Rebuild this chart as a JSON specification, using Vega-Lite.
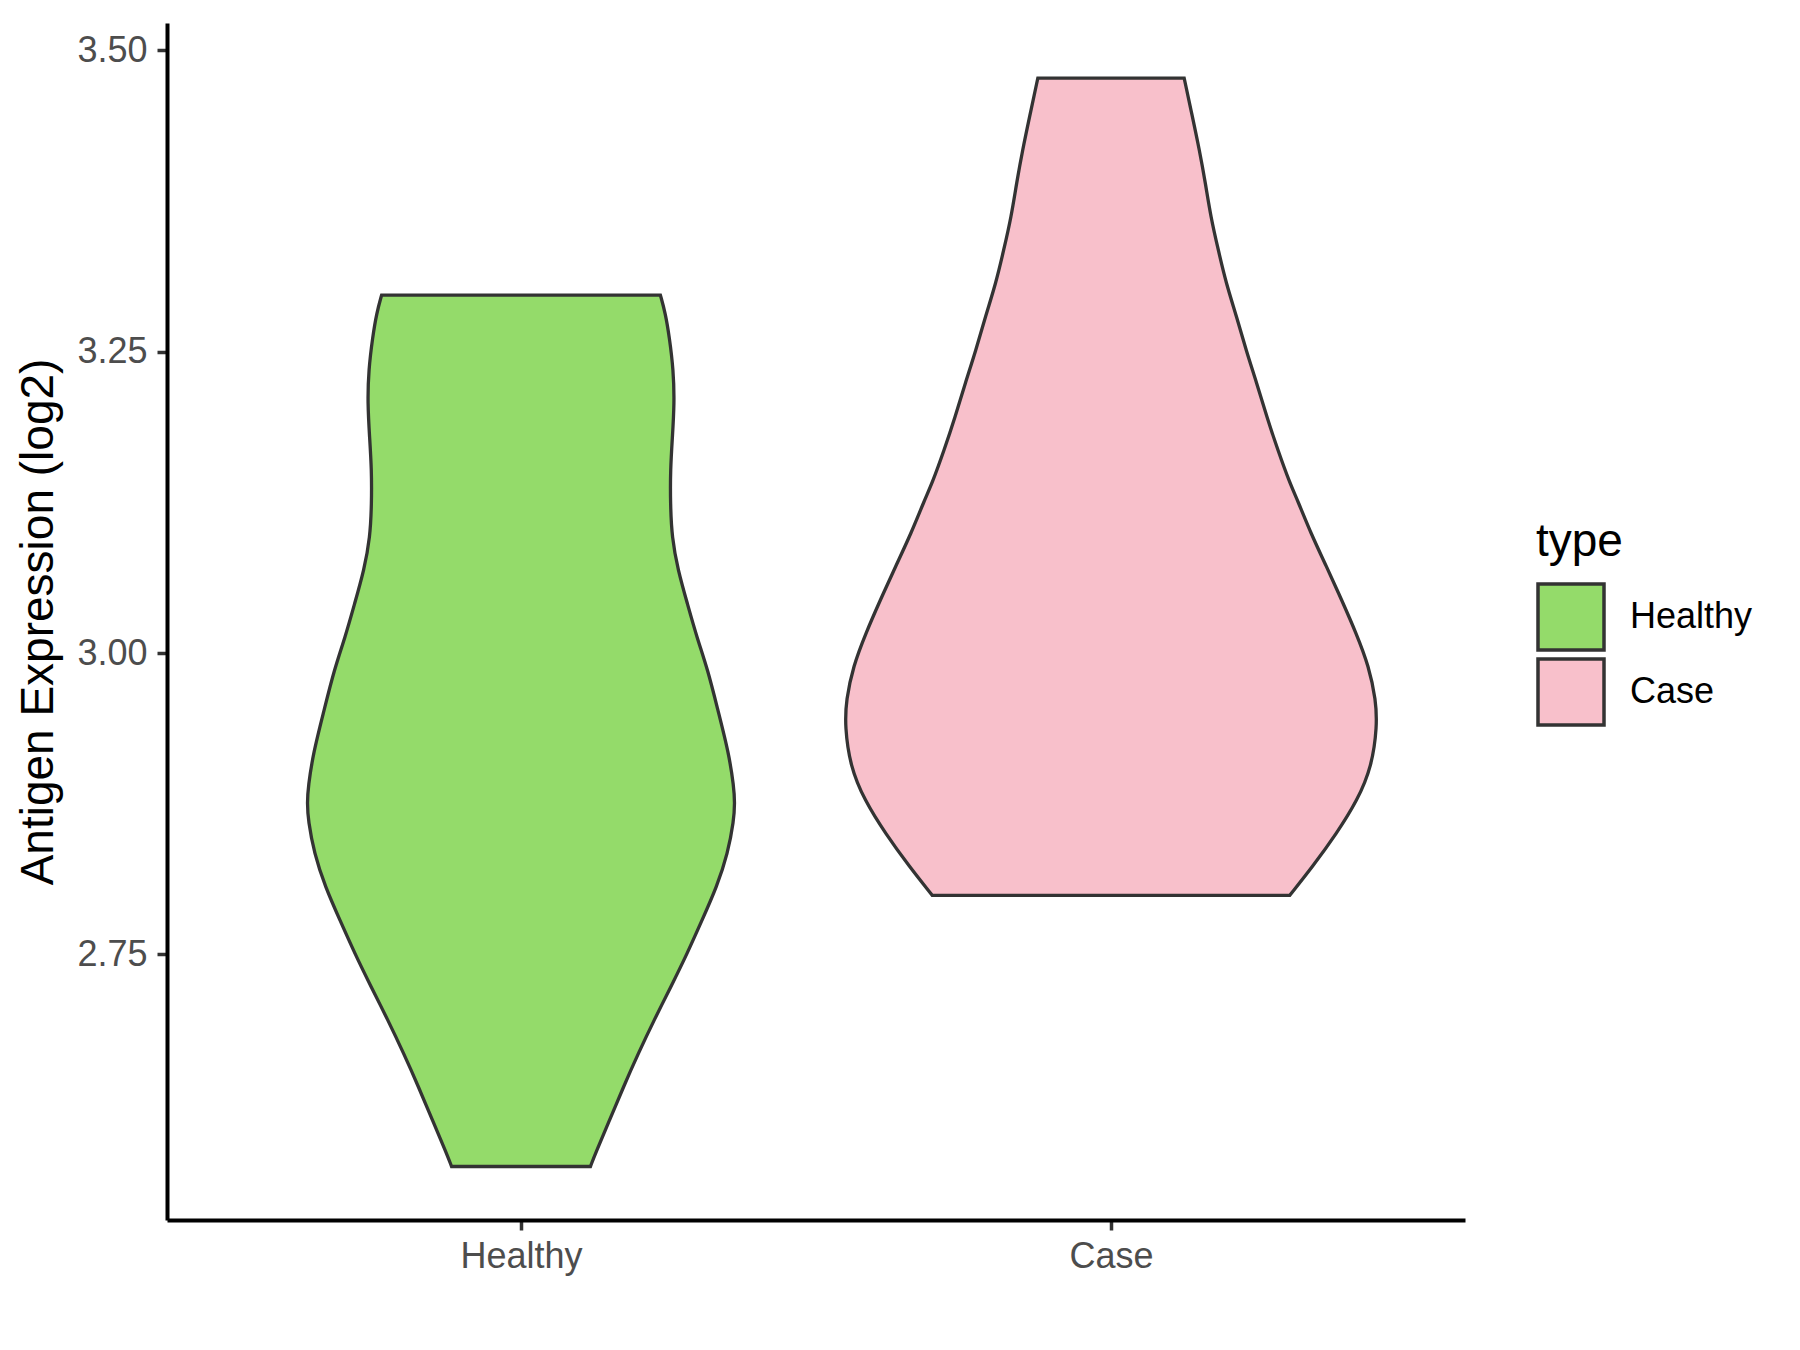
{
  "$schema": "https://vega.github.io/schema/vega-lite/v6.json",
  "width": 1298,
  "height": 1197,
  "autosize": {"type": "none"},
  "padding": {"left": 167, "top": 23, "right": 335, "bottom": 130},
  "background": "white",
  "config": {"view": {"stroke": null}, "font": "Liberation Sans"},
  "data": {
    "values": [
      {"type": "Healthy", "value": 2.574, "lo": 0.8823, "hi": 1.1177},
      {"type": "Healthy", "value": 2.585, "lo": 0.8738, "hi": 1.1262},
      {"type": "Healthy", "value": 2.613, "lo": 0.8493, "hi": 1.1507},
      {"type": "Healthy", "value": 2.640, "lo": 0.8264, "hi": 1.1736},
      {"type": "Healthy", "value": 2.668, "lo": 0.8010, "hi": 1.1990},
      {"type": "Healthy", "value": 2.696, "lo": 0.7739, "hi": 1.2261},
      {"type": "Healthy", "value": 2.723, "lo": 0.7460, "hi": 1.2540},
      {"type": "Healthy", "value": 2.751, "lo": 0.7180, "hi": 1.2820},
      {"type": "Healthy", "value": 2.778, "lo": 0.6935, "hi": 1.3065},
      {"type": "Healthy", "value": 2.806, "lo": 0.6681, "hi": 1.3319},
      {"type": "Healthy", "value": 2.834, "lo": 0.6494, "hi": 1.3506},
      {"type": "Healthy", "value": 2.861, "lo": 0.6393, "hi": 1.3607},
      {"type": "Healthy", "value": 2.876, "lo": 0.6376, "hi": 1.3624},
      {"type": "Healthy", "value": 2.889, "lo": 0.6393, "hi": 1.3607},
      {"type": "Healthy", "value": 2.917, "lo": 0.6478, "hi": 1.3522},
      {"type": "Healthy", "value": 2.952, "lo": 0.6660, "hi": 1.3340},
      {"type": "Healthy", "value": 2.986, "lo": 0.6833, "hi": 1.3167},
      {"type": "Healthy", "value": 3.013, "lo": 0.7019, "hi": 1.2981},
      {"type": "Healthy", "value": 3.041, "lo": 0.7180, "hi": 1.2820},
      {"type": "Healthy", "value": 3.069, "lo": 0.7341, "hi": 1.2659},
      {"type": "Healthy", "value": 3.096, "lo": 0.7443, "hi": 1.2557},
      {"type": "Healthy", "value": 3.124, "lo": 0.7468, "hi": 1.2532},
      {"type": "Healthy", "value": 3.152, "lo": 0.7468, "hi": 1.2532},
      {"type": "Healthy", "value": 3.179, "lo": 0.7434, "hi": 1.2566},
      {"type": "Healthy", "value": 3.207, "lo": 0.7400, "hi": 1.2600},
      {"type": "Healthy", "value": 3.235, "lo": 0.7417, "hi": 1.2583},
      {"type": "Healthy", "value": 3.262, "lo": 0.7485, "hi": 1.2515},
      {"type": "Healthy", "value": 3.282, "lo": 0.7553, "hi": 1.2447},
      {"type": "Healthy", "value": 3.297, "lo": 0.7638, "hi": 1.2362},
      {"type": "Case", "value": 2.799, "lo": 1.697, "hi": 2.303},
      {"type": "Case", "value": 2.823, "lo": 1.658, "hi": 2.342},
      {"type": "Case", "value": 2.850, "lo": 1.618, "hi": 2.382},
      {"type": "Case", "value": 2.878, "lo": 1.582, "hi": 2.418},
      {"type": "Case", "value": 2.906, "lo": 1.558, "hi": 2.442},
      {"type": "Case", "value": 2.939, "lo": 1.549, "hi": 2.451},
      {"type": "Case", "value": 2.961, "lo": 1.551, "hi": 2.449},
      {"type": "Case", "value": 2.989, "lo": 1.563, "hi": 2.437},
      {"type": "Case", "value": 3.016, "lo": 1.584, "hi": 2.416},
      {"type": "Case", "value": 3.044, "lo": 1.609, "hi": 2.391},
      {"type": "Case", "value": 3.072, "lo": 1.635, "hi": 2.365},
      {"type": "Case", "value": 3.099, "lo": 1.661, "hi": 2.339},
      {"type": "Case", "value": 3.127, "lo": 1.684, "hi": 2.316},
      {"type": "Case", "value": 3.141, "lo": 1.697, "hi": 2.303},
      {"type": "Case", "value": 3.168, "lo": 1.717, "hi": 2.283},
      {"type": "Case", "value": 3.196, "lo": 1.736, "hi": 2.264},
      {"type": "Case", "value": 3.224, "lo": 1.753, "hi": 2.247},
      {"type": "Case", "value": 3.251, "lo": 1.771, "hi": 2.229},
      {"type": "Case", "value": 3.279, "lo": 1.787, "hi": 2.213},
      {"type": "Case", "value": 3.307, "lo": 1.805, "hi": 2.195},
      {"type": "Case", "value": 3.334, "lo": 1.818, "hi": 2.182},
      {"type": "Case", "value": 3.362, "lo": 1.831, "hi": 2.169},
      {"type": "Case", "value": 3.390, "lo": 1.840, "hi": 2.160},
      {"type": "Case", "value": 3.417, "lo": 1.850, "hi": 2.150},
      {"type": "Case", "value": 3.445, "lo": 1.862, "hi": 2.138},
      {"type": "Case", "value": 3.477, "lo": 1.876, "hi": 2.124}
    ]
  },
  "mark": {"type": "area", "orient": "horizontal", "interpolate": "basis", "stroke": "#333333", "strokeWidth": 3.3, "opacity": 1, "strokeJoin": "miter"},
  "encoding": {
    "y": {
      "field": "value", "type": "quantitative",
      "scale": {"domain": [2.5296, 3.5227], "nice": false, "zero": false},
      "axis": {
        "title": "Antigen Expression (log2)", "values": [2.75, 3.0, 3.25, 3.5], "format": ".2f",
        "grid": false, "domainColor": "black", "domainWidth": 4,
        "tickColor": "#333333", "tickWidth": 3.5, "tickSize": 10,
        "labelFontSize": 36, "labelColor": "#4D4D4D", "labelPadding": 10, "labelFont": "Liberation Sans",
        "titleFontSize": 46, "titleColor": "black", "titleFontWeight": "normal", "titlePadding": 14, "titleFont": "Liberation Sans"
      }
    },
    "x": {
      "field": "lo", "type": "quantitative", "stack": null,
      "scale": {"domain": [0.4, 2.6], "nice": false, "zero": false},
      "axis": {
        "title": null, "values": [1, 2], "labelExpr": "datum.value == 1 ? 'Healthy' : 'Case'",
        "grid": false, "domainColor": "black", "domainWidth": 4,
        "tickColor": "#333333", "tickWidth": 3.5, "tickSize": 10,
        "labelFontSize": 36, "labelColor": "#4D4D4D", "labelPadding": 9, "labelFont": "Liberation Sans"
      }
    },
    "x2": {"field": "hi"},
    "fill": {
      "field": "type", "type": "nominal",
      "scale": {"domain": ["Healthy", "Case"], "range": ["#94DB6A", "#F8C0CB"]},
      "legend": {
        "title": "type", "orient": "none", "legendX": 1369, "legendY": 497, "padding": 0,
        "titleFontSize": 46, "titleFontWeight": "normal", "titleColor": "black", "titleFont": "Liberation Sans", "titlePadding": 16,
        "labelFontSize": 36, "labelColor": "black", "labelFont": "Liberation Sans", "labelOffset": 24,
        "symbolType": "square", "symbolSize": 4356, "symbolStrokeColor": "#333333", "symbolStrokeWidth": 3.5, "symbolOpacity": 1,
        "rowPadding": -7
      }
    }
  }
}
